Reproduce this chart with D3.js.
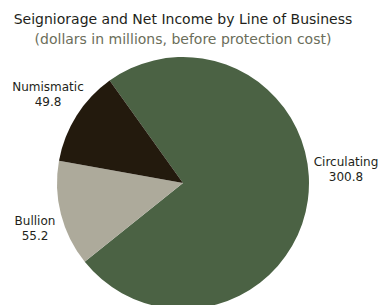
<!DOCTYPE html>
<html><head><meta charset="utf-8">
<script src="https://cdn.jsdelivr.net/npm/d3@7"></script>
<style>body{margin:0;background:#fff;} svg{display:block;}</style>
</head><body>
<svg id="chart" width="380" height="305"></svg>
<script>
const categories = ["Circulating", "Bullion", "Numismatic"];
const values = [300.8, 55.2, 49.8];
const valueLabels = ["300.8", "55.2", "49.8"];
const colors = ["#4b6244", "#adaa9b", "#231a0d"];
const title = "Seigniorage and Net Income by Line of Business";
const subtitle = "(dollars in millions, before protection cost)";

const svg = d3.select("#chart");
const font = "'DejaVu Sans', Verdana, sans-serif";
const cx = 183, cy = 183, r = 126;
const start = -35.6 * Math.PI / 180;

const pie = d3.pie().sort(null).startAngle(start).endAngle(start + 2 * Math.PI);
const arcs = pie(values);
const arc = d3.arc().innerRadius(0).outerRadius(r);

const g = svg.append("g").attr("transform", `translate(${cx},${cy})`);
g.selectAll("path").data(arcs).join("path")
  .attr("d", arc).attr("fill", (d, i) => colors[i]);

svg.append("text").attr("x", 183).attr("y", 24).attr("text-anchor", "middle")
  .attr("font-family", font).attr("font-size", 14).attr("fill", "#231f1a").text(title);
svg.append("text").attr("x", 183).attr("y", 44).attr("text-anchor", "middle")
  .attr("font-family", font).attr("font-size", 14).attr("fill", "#6b6e5a").text(subtitle);

const labelPos = [[346, 166], [35, 225], [48, 91]];
const lab = svg.selectAll("g.lab").data(arcs).join("g").attr("class", "lab");
lab.append("text").attr("x", (d, i) => labelPos[i][0]).attr("y", (d, i) => labelPos[i][1])
  .attr("text-anchor", "middle").attr("font-family", font).attr("font-size", 12).attr("fill", "#231f1a")
  .text((d, i) => categories[i]);
lab.append("text").attr("x", (d, i) => labelPos[i][0]).attr("y", (d, i) => labelPos[i][1] + 15)
  .attr("text-anchor", "middle").attr("font-family", font).attr("font-size", 12).attr("fill", "#231f1a")
  .text((d, i) => valueLabels[i]);
</script>
</body></html>
